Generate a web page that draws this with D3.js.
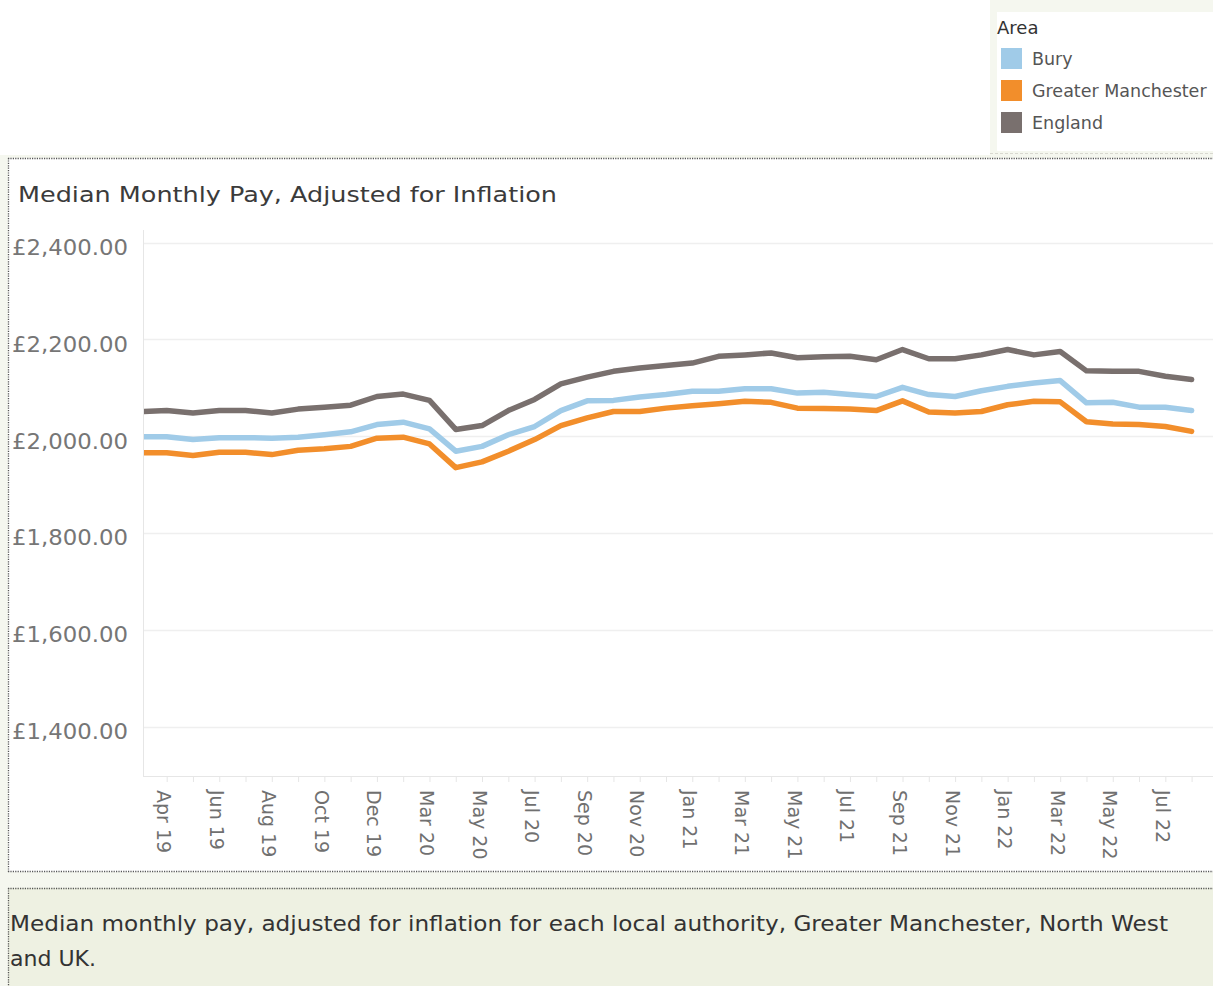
<!DOCTYPE html>
<html>
<head>
<meta charset="utf-8">
<script src="https://cdn.jsdelivr.net/npm/d3@7"></script>
<style>
  html, body { margin: 0; padding: 0; background: #f5f7ef; }
  svg { display: block; }
</style>
</head>
<body>
<svg id="chart" width="1213" height="986"></svg>
<script>
// ---------------- DATA ----------------
const categories = ["Mar 19","Apr 19","May 19","Jun 19","Jul 19","Aug 19","Sep 19","Oct 19","Nov 19","Dec 19",
  "Jan 20","Mar 20","Apr 20","May 20","Jun 20","Jul 20","Aug 20","Sep 20","Oct 20","Nov 20","Dec 20",
  "Jan 21","Feb 21","Mar 21","Apr 21","May 21","Jun 21","Jul 21","Aug 21","Sep 21","Oct 21","Nov 21","Dec 21",
  "Jan 22","Feb 22","Mar 22","Apr 22","May 22","Jun 22","Jul 22","Aug 22"];
const shownLabels = ["Apr 19","Jun 19","Aug 19","Oct 19","Dec 19","Mar 20","May 20","Jul 20","Sep 20","Nov 20",
  "Jan 21","Mar 21","May 21","Jul 21","Sep 21","Nov 21","Jan 22","Mar 22","May 22","Jul 22"];
const bury = [1999,1999,1993,1997,1997,1996,1998,2003,2009,2024,2029,2015,1969,1979,2003,2020,2053,2073,2074,2081,2086,
  2093,2093,2098,2098,2089,2091,2086,2082,2101,2086,2082,2094,2103,2110,2115,2069,2070,2060,2060,2053];
const greaterManchester = [1966,1966,1960,1967,1967,1962,1971,1974,1979,1996,1998,1984,1935,1947,1969,1993,2022,2038,2051,2051,2058,
  2063,2067,2072,2070,2058,2057,2056,2053,2073,2050,2048,2051,2065,2072,2071,2030,2025,2024,2020,2010];
const england = [2051,2053,2048,2053,2053,2048,2056,2060,2064,2082,2087,2074,2014,2022,2053,2076,2108,2122,2134,2141,2146,
  2151,2165,2168,2172,2162,2164,2165,2158,2179,2160,2160,2168,2179,2168,2175,2135,2134,2134,2124,2117];
const seriesNames = ["Bury","Greater Manchester","England"];
const seriesColors = ["#a0cbe8","#f28e2b","#79706e"];
const yTicks = [1400,1600,1800,2000,2200,2400];
const yDomain = [1298, 2426];
const titleText = "Median Monthly Pay, Adjusted for Inflation";
const legendTitle = "Area";
const footerLines = ["Median monthly pay, adjusted for inflation for each local authority, Greater Manchester, North West", "and UK."];

// ---------------- LAYOUT ----------------
const svg = d3.select("#chart");
const FONT = "'DejaVu Sans', sans-serif";
const plot = {left: 143, right: 1213, top: 230, bottom: 776};

// backgrounds
svg.append("rect").attr("x",0).attr("y",0).attr("width",1213).attr("height",986).attr("fill","#f5f7ef");
svg.append("rect").attr("x",0).attr("y",0).attr("width",990).attr("height",155).attr("fill","#ffffff");
// legend container
svg.append("rect").attr("x",997).attr("y",12).attr("width",216).attr("height",139).attr("fill","#ffffff");
// chart panel
svg.append("rect").attr("x",8).attr("y",158).attr("width",1205).attr("height",714).attr("fill","#ffffff");
// footer panel
svg.append("rect").attr("x",8).attr("y",888).attr("width",1205).attr("height",98).attr("fill","#eef1e2");

function dotted(x1,y1,x2,y2){
  svg.append("line").attr("x1",x1).attr("y1",y1).attr("x2",x2).attr("y2",y2)
    .attr("stroke","#555").attr("stroke-width",1.3).attr("stroke-dasharray","1.2,1.2");
}
dotted(8,158.5,1213,158.5);
dotted(8.5,158,8.5,872);
dotted(8,871.5,1213,871.5);
dotted(8,888.5,1213,888.5);
dotted(8.5,888,8.5,986);
svg.append("line").attr("x1",990).attr("y1",153.5).attr("x2",1213).attr("y2",153.5)
  .attr("stroke","#d8d8d0").attr("stroke-dasharray","3,2");

// title
svg.append("text").attr("x",18).attr("y",202).attr("font-family",FONT).attr("font-size",22)
  .attr("fill","#3b3b3b").attr("textLength",539).attr("lengthAdjust","spacingAndGlyphs").text(titleText);

// scales
const x = d3.scalePoint().domain(categories).range([140.4, 1191.6]);
const y = d3.scaleLinear().domain(yDomain).range([plot.bottom, plot.top]);

// gridlines
svg.append("g").selectAll("line").data(yTicks).join("line")
  .attr("x1",plot.left).attr("x2",plot.right)
  .attr("y1",d=>Math.round(y(d))+0.5).attr("y2",d=>Math.round(y(d))+0.5)
  .attr("stroke","#efefef").attr("stroke-width",1.5);

// axis lines
svg.append("line").attr("x1",plot.left+0.5).attr("x2",plot.left+0.5).attr("y1",plot.top).attr("y2",plot.bottom)
  .attr("stroke","#e6e6e6").attr("stroke-width",1);
svg.append("line").attr("x1",plot.left).attr("x2",plot.right).attr("y1",plot.bottom+0.5).attr("y2",plot.bottom+0.5)
  .attr("stroke","#e6e6e6").attr("stroke-width",1);

// y axis labels via d3 axis
const yAxis = d3.axisLeft(y).tickValues(yTicks).tickSize(0).tickPadding(0)
  .tickFormat(d => "£" + d3.format(",.2f")(d));
const yg = svg.append("g").attr("transform","translate(128,0)").call(yAxis);
yg.select(".domain").remove();
yg.selectAll("text").attr("font-family",FONT).attr("font-size",22).attr("fill","#767676")
  .attr("dy","0.54em").attr("textLength",116).attr("lengthAdjust","spacingAndGlyphs");

// x axis ticks + labels
const xAxis = d3.axisBottom(x).tickSize(6).tickPadding(0).tickFormat(d => shownLabels.includes(d) ? d : "");
const xg = svg.append("g").attr("transform",`translate(0,${plot.bottom})`).call(xAxis);
xg.select(".domain").remove();
xg.selectAll(".tick line").attr("stroke","#e6e6e6");
xg.selectAll(".tick").filter((d,i)=> i===0).select("line").remove();
xg.selectAll(".tick text")
  .attr("font-family",FONT).attr("font-size",19).attr("fill","#707070")
  .attr("text-anchor","start").attr("dy",0).attr("y",0)
  .attr("transform","translate(-3,14) rotate(90)")
  .attr("dominant-baseline","central");

// lines
const clip = svg.append("clipPath").attr("id","plotclip");
clip.append("rect").attr("x",plot.left+1).attr("y",plot.top-10).attr("width",plot.right-plot.left).attr("height",plot.bottom-plot.top+10);
const allSeries = [bury, greaterManchester, england];
const line = d3.line().x((d,i)=>x(categories[i])).y(d=>y(d));
const lg = svg.append("g").attr("clip-path","url(#plotclip)");
[2,0,1].forEach(k => {
  lg.append("path").datum(allSeries[k]).attr("d",line).attr("fill","none")
    .attr("stroke",seriesColors[k]).attr("stroke-width",5.5).attr("stroke-linejoin","round").attr("stroke-linecap","round");
});

// legend
svg.append("text").attr("x",997).attr("y",34).attr("font-family",FONT).attr("font-size",18).attr("fill","#333")
  .text(legendTitle);
const leg = svg.append("g").selectAll("g").data(seriesNames).join("g")
  .attr("transform",(d,i)=>`translate(1001,${48+i*32})`);
leg.append("rect").attr("width",21).attr("height",21).attr("fill",(d,i)=>seriesColors[i]);
leg.append("text").attr("x",31).attr("y",17).attr("font-family",FONT).attr("font-size",17.5).attr("fill","#555").text(d=>d);

// footer
svg.append("g").selectAll("text").data(footerLines).join("text")
  .attr("x",10).attr("y",(d,i)=>931+i*35).attr("font-family",FONT).attr("font-size",21).attr("fill","#333")
  .attr("textLength",(d,i)=> i===0 ? 1158 : 86).attr("lengthAdjust","spacingAndGlyphs")
  .text(d=>d);
</script>
</body>
</html>
